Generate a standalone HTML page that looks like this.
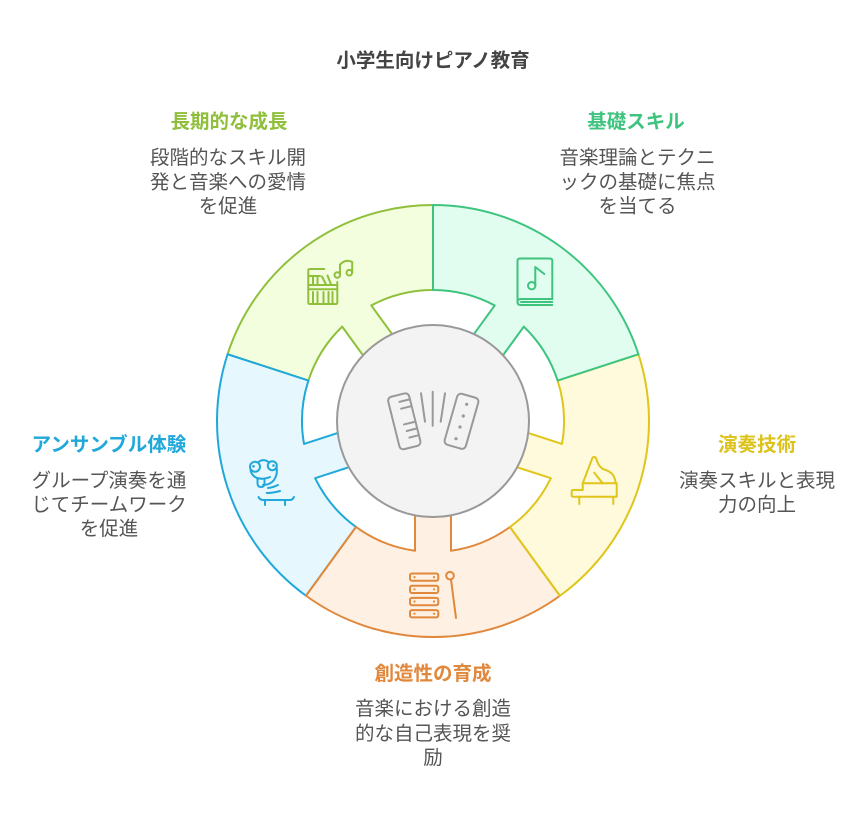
<!DOCTYPE html>
<html>
<head>
<meta charset="utf-8">
<style>
  html,body{margin:0;padding:0;background:#fff;}
  svg{display:block;}
  text{font-family:"Liberation Sans","Noto Sans CJK JP",sans-serif;}
  .t{font-size:19.5px;font-weight:bold;text-anchor:middle;}
  .d{font-size:19.5px;fill:#555;text-anchor:middle;}
</style>
</head>
<body>
<svg width="866" height="818" viewBox="0 0 866 818" xmlns="http://www.w3.org/2000/svg">
  <rect width="866" height="818" fill="#fff"/>

  <!-- Title -->
  <text x="433" y="67" class="t" fill="#444">小学生向けピアノ教育</text>

  <!-- Segments (draw order: yellow-green, blue, orange, yellow, green) -->
  <g stroke-width="2" stroke-linejoin="round">
    <path d="M227.57,354.25 A216,216 0 0 1 433,205 L433,290 A131,131 0 0 0 371.29,305.44 L400.54,345.70 L371.42,366.86 L342.17,326.60 A131,131 0 0 0 308.41,380.52 Z" fill="#f2fedd" stroke="#8fbf3b"/>
    <path d="M306.04,595.75 A216,216 0 0 1 227.57,354.25 L308.41,380.52 A131,131 0 0 0 304.03,443.98 L351.36,428.60 L362.48,462.84 L315.15,478.22 A131,131 0 0 0 356,526.98 Z" fill="#e6f7fe" stroke="#1fa8d9"/>
    <path d="M559.96,595.75 A216,216 0 0 1 306.04,595.75 L356,526.98 A131,131 0 0 0 415,550.76 L415,501 L451,501 L451,550.76 A131,131 0 0 0 510,526.98 Z" fill="#fef0e2" stroke="#e0883b"/>
    <path d="M638.43,354.25 A216,216 0 0 1 559.96,595.75 L510,526.98 A131,131 0 0 0 550.85,478.22 L503.52,462.84 L514.64,428.60 L561.97,443.98 A131,131 0 0 0 557.59,380.52 Z" fill="#fefadb" stroke="#e0c51a"/>
    <path d="M433,205 A216,216 0 0 1 638.43,354.25 L557.59,380.52 A131,131 0 0 0 523.83,326.60 L494.58,366.86 L465.46,345.70 L494.71,305.44 A131,131 0 0 0 433,290 Z" fill="#e1fdef" stroke="#3ec47f"/>
  </g>

  <!-- Center circle -->
  <circle cx="433" cy="421" r="96" fill="#f3f3f3" stroke="#999" stroke-width="2"/>

  <!-- Center accordion icon -->
  <g fill="none" stroke="#999" stroke-width="2" stroke-linecap="round" stroke-linejoin="round">
    <g transform="translate(404.3,421.3) rotate(-14)">
      <rect x="-10.8" y="-27" width="21.6" height="54" rx="4"/>
      <line x1="10.8" y1="-20" x2="0" y2="-20"/>
      <line x1="10.8" y1="-13" x2="0" y2="-13"/>
      <line x1="10.8" y1="3" x2="-1" y2="3"/>
      <line x1="10.8" y1="10" x2="0" y2="10"/>
      <line x1="10.8" y1="17" x2="1" y2="17"/>
    </g>
    <g transform="translate(461.5,421.3) rotate(16)">
      <rect x="-11" y="-26.5" width="22" height="53" rx="4"/>
    </g>
    <line x1="421" y1="393.3" x2="425" y2="421.7"/>
    <line x1="432.7" y1="391.7" x2="432.7" y2="425.7"/>
    <line x1="445" y1="393.3" x2="440.7" y2="421.7"/>
  </g>
  <g fill="#999">
    <circle cx="466.7" cy="404.3" r="1.6"/>
    <circle cx="463.3" cy="416" r="1.6"/>
    <circle cx="460" cy="427" r="1.6"/>
    <circle cx="456" cy="438.7" r="1.6"/>
  </g>

  <!-- Green book icon -->
  <g fill="none" stroke="#3ec47f" stroke-width="2" stroke-linecap="round" stroke-linejoin="round">
    <path d="M552.3,299 V261 Q552.3,258.5 549.8,258.5 H520 Q517.5,258.5 517.5,261 V302 Q517.5,305 520.5,305 H552.3"/>
    <path d="M552.3,299 H521 Q517.5,299 517.5,302"/>
    <line x1="521" y1="302" x2="552.3" y2="302"/>
    <circle cx="531.7" cy="285.7" r="3.7"/>
    <path d="M535.3,285.5 V267 L544.3,274"/>
  </g>

  <!-- Yellow-green bookshelf + notes icon -->
  <g fill="none" stroke="#8fbf3b" stroke-width="2" stroke-linecap="round" stroke-linejoin="round">
    <path d="M324.3,269 H309.8 Q308.3,269 308.3,270.5 V302.5 Q308.3,304 309.8,304 H335.8 Q337.3,304 337.3,302.5 V282"/>
    <line x1="308.3" y1="276" x2="320" y2="276"/>
    <line x1="308.3" y1="285" x2="337.3" y2="285"/>
    <line x1="308.3" y1="289.3" x2="337.3" y2="289.3"/>
    <line x1="313" y1="276" x2="313" y2="285"/>
    <line x1="317.5" y1="276" x2="317.5" y2="285"/>
    <path d="M322,276.5 L326,284.5"/>
    <path d="M327.5,275.5 L331,284.5"/>
    <line x1="313" y1="292" x2="313" y2="304"/>
    <line x1="317.5" y1="292" x2="317.5" y2="304"/>
    <line x1="323.5" y1="292" x2="323.5" y2="304"/>
    <line x1="328.5" y1="292" x2="328.5" y2="304"/>
    <line x1="332.5" y1="292" x2="332.5" y2="304"/>
    <circle cx="337.3" cy="275" r="2.8"/>
    <circle cx="349.3" cy="272.7" r="2.8"/>
    <path d="M340,275 V264.5 Q346,258.5 352.2,262 V272.7"/>
  </g>

  <!-- Yellow piano icon -->
  <g fill="none" stroke="#e0c51a" stroke-width="2" stroke-linecap="round" stroke-linejoin="round">
    <path d="M582.7,483.3 L592.3,458.3 Q593.5,455.5 596,458 Q598,466 603,469 Q610,471 613,475 Q615.5,479 615.5,483.3"/>
    <path d="M582.7,490 V483.3 H616.7 V496.7 H573 Q571.7,496.7 571.7,495.4 V491.3 Q571.7,490 573,490 Z"/>
    <line x1="579.3" y1="496.7" x2="579.3" y2="504"/>
    <line x1="613.3" y1="496.7" x2="613.3" y2="504"/>
    <line x1="594.3" y1="472.7" x2="602.7" y2="483.3"/>
  </g>

  <!-- Orange xylophone icon -->
  <g fill="none" stroke="#e0883b" stroke-width="2" stroke-linecap="round" stroke-linejoin="round">
    <rect x="410" y="573.5" width="28.3" height="7.3" rx="2"/>
    <rect x="410" y="585.7" width="28.3" height="7.3" rx="2"/>
    <rect x="410" y="597.9" width="28.3" height="7.3" rx="2"/>
    <rect x="410" y="610.1" width="28.3" height="7.3" rx="2"/>
    <circle cx="450" cy="575.7" r="3.8"/>
    <line x1="451" y1="579.5" x2="456" y2="618"/>
  </g>
  <g fill="#e0883b">
    <circle cx="414.5" cy="577.1" r="1.1"/><circle cx="434" cy="577.1" r="1.1"/>
    <circle cx="414.5" cy="589.3" r="1.1"/><circle cx="434" cy="589.3" r="1.1"/>
    <circle cx="414.5" cy="601.5" r="1.1"/><circle cx="434" cy="601.5" r="1.1"/>
    <circle cx="414.5" cy="613.7" r="1.1"/><circle cx="434" cy="613.7" r="1.1"/>
  </g>

  <!-- Blue frog/skate icon -->
  <g fill="none" stroke="#1fa8d9" stroke-width="2" stroke-linecap="round" stroke-linejoin="round">
    <circle cx="255" cy="466.7" r="5"/>
    <circle cx="272.3" cy="465.7" r="4.5"/>
    <path d="M258,462.5 Q263,458 268.5,462"/>
    <path d="M276.5,467 Q278,474 274,480 Q270,485 263,485"/>
    <path d="M250.5,470.5 Q252,476 257,478"/>
    <path d="M257.5,478 V483 Q257.5,487 261,487 Q264.5,487 264.5,483 V478.5"/>
    <path d="M257,478 Q263,480 270,477"/>
    <path d="M268,488 Q273,487.5 278,485"/>
    <path d="M266.7,493 Q273,493 280,491"/>
    <path d="M258.5,497 Q260,500 263,500 H290 Q292.5,500 294,497"/>
    <line x1="265" y1="500" x2="265" y2="505"/>
    <line x1="285" y1="500" x2="285" y2="505"/>
  </g>
  <g fill="#1fa8d9">
    <circle cx="253.5" cy="466.3" r="1.3"/>
    <circle cx="273.5" cy="465.5" r="1.3"/>
  </g>

  <!-- Labels -->
  <text x="229" y="128" class="t" fill="#8fbf3b">長期的な成長</text>
  <text x="228" y="164" class="d">段階的なスキル開</text>
  <text x="228" y="188.5" class="d">発と音楽への愛情</text>
  <text x="228" y="212.5" class="d">を促進</text>

  <text x="636" y="128" class="t" fill="#3ec47f">基礎スキル</text>
  <text x="637.5" y="164" class="d">音楽理論とテクニ</text>
  <text x="637.5" y="188.5" class="d">ックの基礎に焦点</text>
  <text x="637.5" y="212.5" class="d">を当てる</text>

  <text x="757" y="451" class="t" fill="#dcc21a">演奏技術</text>
  <text x="757" y="487" class="d">演奏スキルと表現</text>
  <text x="757" y="511" class="d">力の向上</text>

  <text x="109" y="451" class="t" fill="#1fa8d9">アンサンブル体験</text>
  <text x="109" y="487" class="d">グループ演奏を通</text>
  <text x="109" y="511" class="d">じてチームワーク</text>
  <text x="109" y="535" class="d">を促進</text>

  <text x="433" y="680" class="t" fill="#e0883b">創造性の育成</text>
  <text x="433" y="715" class="d">音楽における創造</text>
  <text x="433" y="740" class="d">的な自己表現を奨</text>
  <text x="433" y="764" class="d">励</text>
</svg>
</body>
</html>
